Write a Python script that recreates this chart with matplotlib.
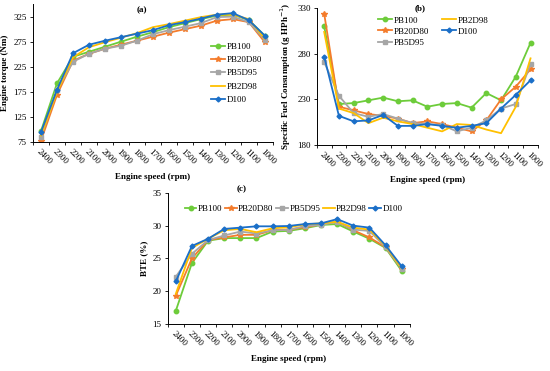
import matplotlib
matplotlib.use("Agg")
import matplotlib.pyplot as plt
from matplotlib.ticker import FixedLocator

plt.rcParams['font.family'] = ['Liberation Serif', 'DejaVu Serif']

speeds = ['2400', '2300', '2200', '2100', '2000', '1900', '1800', '1700',
          '1600', '1500', '1400', '1300', '1200', '1100', '1000']
fuels = ['PB100', 'PB20D80', 'PB5D95', 'PB2D98', 'D100']

# (a) engine torque, Nm
torque_pb100 = [97, 192, 245, 255, 265, 275, 285, 294, 304, 312, 320, 327, 329, 318, 287]
torque_pb20d80 = [78, 169, 237, 251, 261, 269, 277, 285, 293, 300, 307, 317, 320, 314, 274]
torque_pb5d95 = [85, 178, 235, 251, 261, 267, 277, 290, 298, 305, 312, 324, 325, 314, 279]
torque_pb2d98 = [88, 175, 244, 264, 274, 283, 292, 304, 310, 317, 324, 329, 329, 320, 281]
torque_d100 = [95, 179, 252, 269, 277, 284, 291, 298, 308, 314, 321, 329, 332, 318, 287]

# (b) specific fuel consumption, g/HPh
sfc_pb100 = [310, 225, 226, 229, 232, 228, 229, 222, 225, 226, 221, 237, 229, 255, 292]
sfc_pb20d80 = [324, 222, 218, 214, 212, 209, 204, 206, 203, 199, 195, 207, 230, 244, 263]
sfc_pb5d95 = [271, 234, 215, 211, 214, 209, 204, 203, 202, 195, 199, 207, 220, 225, 269]
sfc_pb2d98 = [304, 220, 215, 204, 210, 206, 203, 199, 195, 203, 202, 197, 193, 222, 275]
sfc_d100 = [277, 212, 206, 207, 213, 201, 201, 203, 201, 199, 201, 204, 220, 235, 251]

# (c) brake thermal efficiency, %
bte_pb100 = [17.0, 24.3, 27.7, 28.1, 28.1, 28.1, 29.1, 29.2, 29.6, 30.1, 30.25, 29.1, 28.0, 26.6, 23.1]
bte_pb20d80 = [19.3, 25.0, 27.8, 28.2, 28.6, 28.6, 29.3, 29.4, 29.75, 30.2, 30.6, 29.3, 28.2, 26.7, 23.4]
bte_pb5d95 = [22.2, 25.7, 27.8, 28.5, 29.1, 28.8, 29.3, 29.35, 29.95, 30.1, 30.6, 29.4, 29.2, 26.7, 23.4]
bte_pb2d98 = [19.6, 26.6, 28.0, 29.3, 29.5, 29.0, 29.6, 29.75, 30.2, 30.35, 30.6, 29.7, 29.4, 26.9, 23.5]
bte_d100 = [21.5, 26.9, 28.0, 29.5, 29.7, 29.9, 29.9, 29.95, 30.25, 30.35, 31.0, 30.0, 29.7, 27.0, 23.8]

colors = ['#6dcc3a', '#f47c2c', '#a6a6a6', '#ffc000', '#1b6fc8']
markers = ['o', '*', 's', None, 'D']
msizes = [3.2, 3.8, 3.2, 0, 2.5]

fig = plt.figure(figsize=(5.5, 3.71), dpi=100)
ax_a = fig.add_axes([0.060, 0.617, 0.436, 0.372])
ax_b = fig.add_axes([0.576, 0.609, 0.402, 0.369])
ax_c = fig.add_axes([0.305, 0.127, 0.440, 0.353])


def draw(ax, series, ylim, yticks, ylabel):
    x = list(range(len(speeds)))
    for vals, name, c, m, ms in zip(series, fuels, colors, markers, msizes):
        ax.plot(x, vals, color=c, marker=m, markersize=ms, lw=1.3, label=name)
    ax.set_xlim(-0.5, len(speeds) - 0.5)
    ax.set_ylim(*ylim)
    ax.set_yticks(yticks)
    ax.set_xticks(x)
    ax.set_xticklabels(speeds, rotation=-45, ha='left', va='top',
                       rotation_mode='anchor', fontsize=6.5)
    ax.xaxis.set_minor_locator(FixedLocator([i + 0.5 for i in range(-1, len(speeds))]))
    ax.tick_params(axis='x', which='major', length=0, pad=4)
    ax.tick_params(axis='x', which='minor', length=2.5, width=0.6)
    ax.tick_params(axis='y', length=2.5, width=0.6, labelsize=6.5, pad=2)
    for s in ['top', 'right']:
        ax.spines[s].set_visible(False)
    for s in ['left', 'bottom']:
        ax.spines[s].set_linewidth(0.7)
    ax.set_ylabel(ylabel, fontsize=6.5, fontweight='bold', labelpad=3)
    ax.set_xlabel('Engine speed (rpm)', fontsize=6.5, fontweight='bold', labelpad=5)


draw(ax_a, [torque_pb100, torque_pb20d80, torque_pb5d95, torque_pb2d98, torque_d100],
     (75, 350), [75, 125, 175, 225, 275, 325], 'Engine torque (Nm)')
draw(ax_b, [sfc_pb100, sfc_pb20d80, sfc_pb5d95, sfc_pb2d98, sfc_d100],
     (180, 330), [180, 230, 280, 330], 'Specific Fuel Consumption (g HPh$^{-1}$)')
draw(ax_c, [bte_pb100, bte_pb20d80, bte_pb5d95, bte_pb2d98, bte_d100],
     (15, 35), [15, 20, 25, 30, 35], 'BTE (%)')

ax_a.legend(loc='upper left', bbox_to_anchor=(0.71, 0.78), frameon=False,
            fontsize=6.5, handlelength=1.5, handletextpad=0.2, labelspacing=0.55)
ax_b.legend(loc='upper left', bbox_to_anchor=(0.24, 1.0), frameon=False, ncol=2,
            fontsize=6.5, handlelength=1.5, handletextpad=0.2, labelspacing=0.3,
            columnspacing=1.5)
ax_c.legend(loc='upper center', bbox_to_anchor=(0.52, 0.97), frameon=False, ncol=5,
            fontsize=6.5, handlelength=1.3, handletextpad=0.15, columnspacing=0.3)

fig.text(142 / 550, 1 - 10 / 371, '(a)', fontsize=6.5, fontweight='bold', ha='center', va='center')
fig.text(420 / 550, 1 - 8 / 371, '(b)', fontsize=6.5, fontweight='bold', ha='center', va='center')
fig.text(242 / 550, 1 - 189 / 371, '(c)', fontsize=6.5, fontweight='bold', ha='center', va='center')

fig.savefig('out.png', dpi=100)
